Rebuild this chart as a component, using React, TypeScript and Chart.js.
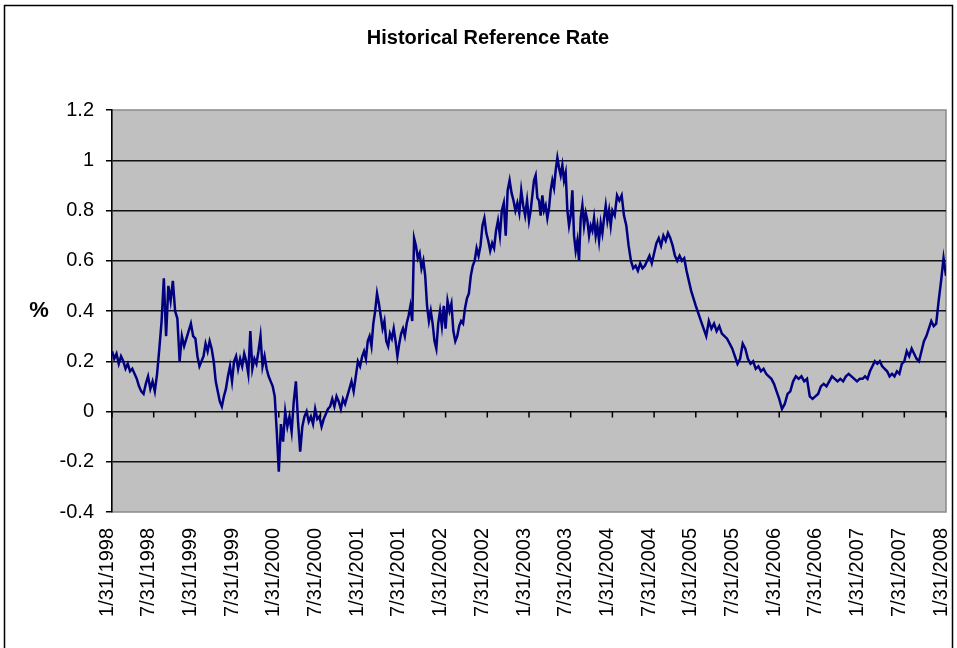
import React, { useEffect, useRef } from "react";
import { Chart, registerables } from "chart.js";

Chart.register(...registerables);

const chartTitle = "Historical Reference Rate";
const yTitle = "%";

const tickLabels = [
  "1/31/1998", "7/31/1998", "1/31/1999", "7/31/1999", "1/31/2000", "7/31/2000",
  "1/31/2001", "7/31/2001", "1/31/2002", "7/31/2002", "1/31/2003", "7/31/2003",
  "1/31/2004", "7/31/2004", "1/31/2005", "7/31/2005", "1/31/2006", "7/31/2006",
  "1/31/2007", "7/31/2007", "1/31/2008",
];

const rate1998 = [0.24, 0.21, 0.23, 0.19, 0.22, 0.20, 0.17, 0.19, 0.16, 0.17, 0.15, 0.13, 0.10, 0.08, 0.07, 0.11, 0.14, 0.09, 0.12, 0.08, 0.15, 0.25, 0.36, 0.53, 0.30, 0.50, 0.44, 0.52, 0.40, 0.37, 0.20, 0.30, 0.26, 0.29, 0.32, 0.35, 0.30];
const rate1999 = [0.29, 0.22, 0.18, 0.20, 0.22, 0.27, 0.24, 0.28, 0.25, 0.20, 0.12, 0.08, 0.04, 0.02, 0.06, 0.09, 0.14, 0.18, 0.12, 0.20, 0.22, 0.17, 0.21, 0.18, 0.23, 0.20, 0.15, 0.32, 0.17, 0.21, 0.19, 0.24, 0.30, 0.18, 0.22, 0.17, 0.14, 0.12, 0.10, 0.06, -0.08];
const rate2000 = [-0.24, -0.05, -0.12, 0.00, -0.06, -0.02, -0.08, 0.04, 0.12, -0.04, -0.16, -0.06, -0.02, 0.00, -0.04, -0.02, -0.05, 0.01, -0.03, -0.02, -0.06, -0.03, -0.01, 0.01, 0.02, 0.05, 0.02, 0.06, 0.04, 0.01, 0.05, 0.03, 0.06, 0.09, 0.12, 0.08, 0.14, 0.20, 0.18];
const rate2001 = [0.22, 0.24, 0.21, 0.28, 0.30, 0.26, 0.35, 0.40, 0.47, 0.43, 0.38, 0.33, 0.36, 0.28, 0.26, 0.31, 0.29, 0.33, 0.28, 0.22, 0.27, 0.31, 0.33, 0.30, 0.35, 0.38, 0.42, 0.36, 0.69, 0.66, 0.61, 0.63, 0.57, 0.60, 0.54, 0.42, 0.36, 0.40, 0.35, 0.28, 0.25, 0.35, 0.40, 0.34, 0.42];
const rate2002 = [0.33, 0.44, 0.40, 0.43, 0.32, 0.28, 0.30, 0.34, 0.36, 0.35, 0.41, 0.45, 0.47, 0.54, 0.58, 0.60, 0.65, 0.62, 0.66, 0.74, 0.77, 0.71, 0.68, 0.64, 0.67, 0.65, 0.72, 0.76, 0.70, 0.80, 0.83, 0.70, 0.88, 0.92, 0.87, 0.84, 0.80, 0.83, 0.79, 0.88, 0.82, 0.78, 0.84];
const rate2003 = [0.76, 0.80, 0.86, 0.92, 0.94, 0.85, 0.84, 0.78, 0.86, 0.80, 0.82, 0.77, 0.81, 0.88, 0.92, 0.89, 0.96, 1.01, 0.97, 0.94, 0.98, 0.92, 0.95, 0.80, 0.74, 0.78, 0.88, 0.70, 0.64, 0.68, 0.60, 0.77, 0.82, 0.74, 0.79, 0.76, 0.70, 0.74, 0.72, 0.77, 0.70, 0.74, 0.68, 0.75, 0.71, 0.77, 0.82, 0.76, 0.80, 0.74];
const rate2004 = [0.80, 0.78, 0.86, 0.84, 0.86, 0.78, 0.74, 0.66, 0.60, 0.57, 0.58, 0.56, 0.59, 0.57, 0.58, 0.60, 0.62, 0.59, 0.63, 0.67, 0.69, 0.66, 0.70, 0.68, 0.71, 0.69, 0.66, 0.62, 0.60, 0.62, 0.60, 0.61, 0.56, 0.52, 0.48, 0.45];
const rate2005 = [0.42, 0.39, 0.36, 0.33, 0.30, 0.36, 0.33, 0.35, 0.32, 0.34, 0.31, 0.30, 0.29, 0.27, 0.25, 0.22, 0.19, 0.21, 0.27, 0.25, 0.21, 0.19, 0.20, 0.17, 0.18, 0.16, 0.17, 0.15, 0.14, 0.13, 0.11, 0.08];
const rate2006 = [0.05, 0.01, 0.03, 0.07, 0.08, 0.12, 0.14, 0.13, 0.14, 0.12, 0.13, 0.06, 0.05, 0.06, 0.07, 0.10, 0.11, 0.10, 0.12, 0.14, 0.13, 0.12, 0.13, 0.12, 0.14, 0.15, 0.14, 0.13, 0.12, 0.13];
const rate2007 = [0.13, 0.14, 0.13, 0.16, 0.18, 0.20, 0.19, 0.20, 0.18, 0.17, 0.16, 0.14, 0.15, 0.14, 0.16, 0.15, 0.19, 0.20, 0.24, 0.22, 0.25, 0.23, 0.21, 0.20, 0.24, 0.28, 0.30, 0.33, 0.36, 0.34, 0.35, 0.44, 0.52, 0.61];
const rate2008 = [0.54];

const yearlySeries = [rate1998, rate1999, rate2000, rate2001, rate2002, rate2003, rate2004, rate2005, rate2006, rate2007, rate2008];

const FONT = "'Liberation Sans', Arial, Helvetica, sans-serif";

function buildPoints() {
  const pts: { x: number; y: number }[] = [];
  yearlySeries.forEach((arr, k) => {
    arr.forEach((v, i) => {
      pts.push({ x: 12 * k + (12 * i) / arr.length, y: v });
    });
  });
  return pts;
}

const decorPlugin = {
  id: "decor",
  beforeDraw(chart: any) {
    const { ctx, chartArea: a, width, height } = chart;
    ctx.save();
    ctx.fillStyle = "#ffffff";
    ctx.fillRect(0, 0, width, height);
    ctx.strokeStyle = "#000000";
    ctx.lineWidth = 1.5;
    ctx.beginPath();
    ctx.moveTo(4.5, height);
    ctx.lineTo(4.5, 5.5);
    ctx.lineTo(952.5, 5.5);
    ctx.lineTo(952.5, height);
    ctx.stroke();
    ctx.fillStyle = "#c0c0c0";
    ctx.fillRect(a.left, a.top, a.right - a.left, a.bottom - a.top);
    ctx.strokeStyle = "#8a8a8a";
    ctx.lineWidth = 1.5;
    ctx.strokeRect(a.left, a.top, a.right - a.left, a.bottom - a.top);
    ctx.restore();
  },
  afterDraw(chart: any) {
    const { ctx, chartArea: a } = chart;
    const xs = chart.scales.x;
    const ys = chart.scales.y;
    const y0 = ys.getPixelForValue(0);
    ctx.save();
    ctx.strokeStyle = "#000000";
    ctx.lineWidth = 1.5;
    ctx.beginPath();
    xs.ticks.forEach((t: any) => {
      const px = xs.getPixelForValue(t.value);
      ctx.moveTo(px, y0);
      ctx.lineTo(px, y0 + 6);
    });
    ctx.stroke();
    ctx.fillStyle = "#000000";
    ctx.textAlign = "center";
    ctx.textBaseline = "middle";
    ctx.font = `bold 20px ${FONT}`;
    ctx.fillText(chartTitle, 488, 38);
    ctx.font = `bold 22px ${FONT}`;
    ctx.fillText(yTitle, 39, (a.top + a.bottom) / 2);
    ctx.restore();
  },
};

export default function App() {
  const ref = useRef<HTMLCanvasElement | null>(null);

  useEffect(() => {
    if (!ref.current) return;
    const chart = new Chart(ref.current, {
      type: "line",
      data: {
        datasets: [
          {
            label: "Reference Rate",
            data: buildPoints(),
            borderColor: "#000080",
            borderWidth: 2.5,
            pointRadius: 0,
            tension: 0,
            fill: false,
          },
        ],
      },
      options: {
        animation: false,
        responsive: false,
        devicePixelRatio: 1,
        layout: { padding: { top: 110, right: 11, left: 0, bottom: 0 } },
        plugins: {
          legend: { display: false },
          title: { display: false },
          tooltip: { enabled: false },
        },
        scales: {
          x: {
            type: "linear",
            min: 0,
            max: 120,
            afterFit: (s: any) => {
              s.height = 136;
              s.paddingLeft = 0;
              s.paddingRight = 0;
            },
            afterBuildTicks: (s: any) => {
              s.ticks = tickLabels.map((_, i) => ({ value: i * 6 }));
            },
            grid: { display: false, drawTicks: false },
            border: { display: false },
            ticks: {
              autoSkip: false,
              maxRotation: 90,
              minRotation: 90,
              padding: 16,
              labelOffset: -5,
              color: "#000",
              font: { family: FONT, size: 20 },
              callback: (v: any) => tickLabels[Math.round(Number(v) / 6)] ?? "",
            },
          },
          y: {
            min: -0.4,
            max: 1.2,
            afterFit: (s: any) => {
              s.width = 112;
              s.paddingTop = 0;
              s.paddingBottom = 0;
            },
            grid: {
              color: (c: any) =>
                c.tick && (c.tick.value > 1.19 || c.tick.value < -0.39) ? "rgba(0,0,0,0)" : "#111111",
              tickColor: "#000000",
              lineWidth: 1.5,
              tickLength: 6,
              drawTicks: true,
            },
            border: { display: true, color: "#000000", width: 1.5 },
            ticks: {
              stepSize: 0.2,
              padding: 12,
              color: "#000",
              font: { family: FONT, size: 20 },
              callback: (v: any) => String(Number(Number(v).toFixed(1))),
            },
          },
        },
      },
      plugins: [decorPlugin],
    });
    return () => chart.destroy();
  }, []);

  return (
    <div style={{ position: "fixed", left: 0, top: 0, width: 957, height: 648, background: "#fff" }}>
      <canvas ref={ref} width={957} height={648} style={{ display: "block", width: 957, height: 648 }} />
    </div>
  );
}
